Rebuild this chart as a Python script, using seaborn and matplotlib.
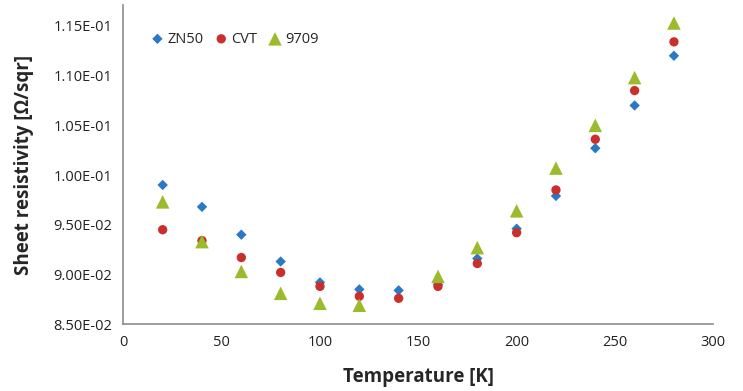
import numpy as np
import pandas as pd
import matplotlib
matplotlib.use('Agg')
import matplotlib.pyplot as plt
import seaborn as sns
from matplotlib.ticker import FuncFormatter

# Data
temperature = [20, 40, 60, 80, 100, 120, 140, 160, 180, 200, 220, 240, 260, 280]
zn50 = [0.0990, 0.0968, 0.0940, 0.0913, 0.0892, 0.0885, 0.0884, 0.0890,
        0.0916, 0.0946, 0.0979, 0.1027, 0.1070, 0.1120]
cvt = [0.0945, 0.0934, 0.0917, 0.0902, 0.0888, 0.0878, 0.0876, 0.0888,
       0.0911, 0.0942, 0.0985, 0.1036, 0.1085, 0.1134]
s9709 = [0.0973, 0.0933, 0.0903, 0.0881, 0.0871, 0.0869, np.nan, 0.0898,
         0.0927, 0.0964, 0.1007, 0.1050, 0.1098, 0.1153]
series_names = ['ZN50', 'CVT', '9709']

df = pd.DataFrame({'T': temperature, 'ZN50': zn50, 'CVT': cvt, '9709': s9709})
long_df = df.melt(id_vars='T', var_name='sample', value_name='R').dropna()

sns.set_style('white')
plt.rcParams['font.family'] = ['Open Sans', 'DejaVu Sans']

fig = plt.figure(figsize=(7.43, 3.91), dpi=100)
ax = fig.add_axes([0.166, 0.171, 0.794, 0.816])

palette = {'ZN50': '#2a78c6', 'CVT': '#c9302c', '9709': '#9bbb2c'}
markers = {'ZN50': 'D', 'CVT': 'o', '9709': '^'}
sizes = {'ZN50': 28, 'CVT': 45, '9709': 95}

for name in series_names:
    sub = long_df[long_df['sample'] == name]
    sns.scatterplot(data=sub, x='T', y='R', color=palette[name], marker=markers[name],
                    s=sizes[name], edgecolor='none', label=name, ax=ax)

ax.set_xlim(0, 300)
ax.set_ylim(0.085, 0.1171)
ax.set_xticks([0, 50, 100, 150, 200, 250, 300])
ax.set_yticks([0.085, 0.090, 0.095, 0.100, 0.105, 0.110, 0.115])
ax.yaxis.set_major_formatter(FuncFormatter(lambda v, p: f'{v:.2E}'))
ax.tick_params(axis='both', length=0, labelsize=10.5, colors='#222222', pad=8)

for side in ['top', 'right']:
    ax.spines[side].set_visible(False)
for side in ['left', 'bottom']:
    ax.spines[side].set_color('#8c8c8c')
    ax.spines[side].set_linewidth(1.2)

ax.set_xlabel('Temperature [K]', fontsize=13.5, fontweight='bold', labelpad=12)
ax.set_ylabel('Sheet resistivity [Ω/sqr]', fontsize=13.5, fontweight='bold', labelpad=14)

ax.legend(loc='upper left', bbox_to_anchor=(0.038, 0.935), ncol=3, frameon=False,
          fontsize=10.5, handlelength=0.8, handletextpad=0.3, columnspacing=0.8,
          borderaxespad=0)

fig.savefig('out.png', dpi=100)
